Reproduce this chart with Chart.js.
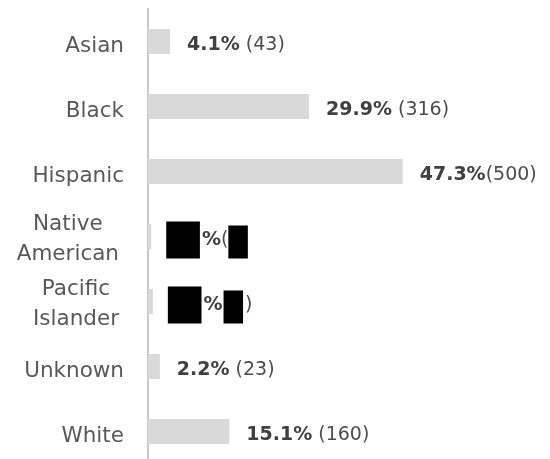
<!DOCTYPE html>
<html>
<head>
<meta charset="utf-8">
<script src="https://cdn.jsdelivr.net/npm/chart.js@4.4.1/dist/chart.umd.min.js"></script>
<style>
  html, body { margin: 0; padding: 0; background: #fff; overflow: hidden; }
  #wrap { width: 550px; height: 470px; position: relative; }
</style>
</head>
<body>
<div id="wrap"><canvas id="chart"></canvas></div>
<script>
const categories = ["Asian", "Black", "Hispanic", ["Native", "American"], ["Pacific", "Islander"], "Unknown", "White"];
const percents = [4.1, 29.9, 47.3, 0.6, 0.9, 2.2, 15.1];
const counts = [43, 316, 500, 6, 9, 23, 160];
// rows with blacked-out numbers; the value is the bracket that stays visible
const redacted = ["", "", "", "(", ")", "", ""];

const FONT = "'DejaVu Sans', sans-serif";

const rowLabels = {
  id: "rowLabels",
  afterDatasetsDraw(chart) {
    const { ctx, chartArea, scales: { x, y } } = chart;
    ctx.save();

    // category names left of the axis
    ctx.fillStyle = "#595959";
    ctx.font = "21.5px " + FONT;
    categories.forEach((cat, i) => {
      const c = y.getPixelForValue(i);
      if (Array.isArray(cat)) {
        const widest = Math.max(...cat.map(l => ctx.measureText(l).width));
        const mid = chartArea.left - 29 - widest / 2;
        ctx.textAlign = "center";
        cat.forEach((line, j) => ctx.fillText(line, mid, c - 7 + j * 30));
      } else {
        ctx.textAlign = "right";
        ctx.fillText(cat, chartArea.left - 24, c + 10);
      }
    });

    // "12.3% (45)" after each bar
    const bold = "bold 19px " + FONT;
    const reg = "19px " + FONT;
    ctx.textAlign = "left";
    percents.forEach((p, i) => {
      const c = y.getPixelForValue(i);
      const px = x.getPixelForValue(p) + 17;
      const base = c + 8.5;
      const num = p.toFixed(1);
      ctx.fillStyle = "#404040";
      ctx.font = bold;
      if (redacted[i]) {
        const wNum = ctx.measureText(num).width;
        const wPct = ctx.measureText("%").width;
        ctx.fillStyle = "#000";
        ctx.fillRect(px - 2, c - 15, wNum, 37);
        ctx.fillStyle = "#404040";
        ctx.fillText("%", px + wNum, base);
        let cx = px + wNum + wPct;
        ctx.font = reg;
        ctx.fillStyle = "#4d4d4d";
        if (redacted[i] === "(") {
          ctx.fillText("(", cx, base);
          cx += ctx.measureText("(").width;
          const w = ctx.measureText(counts[i] + ")").width;
          ctx.fillStyle = "#000";
          ctx.fillRect(cx, c - 11, w, 33);
        } else {
          const w = ctx.measureText("(" + counts[i]).width;
          ctx.fillStyle = "#000";
          ctx.fillRect(cx + 1, c - 11, w, 33);
          ctx.fillStyle = "#4d4d4d";
          ctx.fillText(")", cx + w + 3, base);
        }
      } else {
        const head = num + "%";
        ctx.fillText(head, px, base);
        const cx = px + ctx.measureText(head).width;
        ctx.font = reg;
        ctx.fillStyle = "#4d4d4d";
        let tail = " (" + counts[i] + ")";
        if (cx + ctx.measureText(tail).width > chart.width - 10) tail = tail.trim();
        ctx.fillText(tail, cx, base);
      }
    });
    ctx.restore();
  }
};

new Chart(document.getElementById("chart"), {
  type: "bar",
  data: {
    labels: categories,
    datasets: [{
      data: percents,
      backgroundColor: "#d9d9d9",
      barPercentage: 0.385,
      categoryPercentage: 1
    }]
  },
  options: {
    indexAxis: "y",
    responsive: true,
    maintainAspectRatio: false,
    animation: false,
    layout: { padding: { left: 148, right: 25, top: 9, bottom: 6 } },
    plugins: { legend: { display: false }, tooltip: { enabled: false } },
    scales: {
      x: { display: false, min: 0, max: 70 },
      y: {
        ticks: { display: false },
        grid: { display: true, drawOnChartArea: false, drawTicks: false },
        border: { display: true, color: "#c8c8c8", width: 2 }
      }
    }
  },
  plugins: [rowLabels]
});
</script>
</body>
</html>
